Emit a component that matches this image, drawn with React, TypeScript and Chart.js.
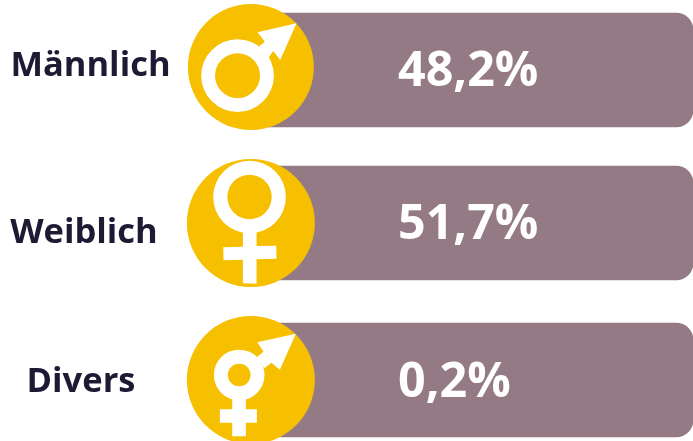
import React, { useEffect, useRef } from "react";
import { Chart, registerables } from "chart.js";

Chart.register(...registerables);

const categories = ["Männlich", "Weiblich", "Divers"];
const shares = [48.2, 51.7, 0.2];
const barStart = 36.2;
const barEnd = 100;
const tickMin = 0;
const tickMax = 100;

const W = 693;
const H = 441;
const BAR = "#947a85";
const GOLD = "#f6bf00";
const INK = "#1e1a34";
const rowShift = { bar: [0, -2, 0], dot: [-3, -2, 0] };
const dotSizes = [63, 64, 64];
const labelPos = [
  { cx: 90.5, dy: -4 },
  { cx: 84, dy: 10 },
  { cx: 81, dy: 2 },
];
const valueDy = [2, 2, 3];

type Pt = [number, number];
type Glyph = { rings: [number, number, number, number]; polys: Pt[][] };
// Shapes in units of 1/3 px relative to an origin near the disc centre
const glyphs: Glyph[] = [
  {
    rings: [203, 227, 109, 67.5],
    polys: [[[380, 70], [263, 97], [285, 125], [268, 138], [295, 175], [310, 153], [331, 180]]],
  },
  {
    rings: [239, 141, 109, 66.5],
    polys: [
      [[219, 240], [260, 240], [260, 288], [319, 287], [320, 326], [260, 328], [260, 401], [219, 400], [219, 329], [161, 331], [160, 292], [219, 290]],
    ],
  },
  {
    rings: [208, 225, 76, 34],
    polys: [
      [[378, 101], [262, 127], [281, 155], [262, 170], [283, 205], [305, 188], [330, 209]],
      [[187, 290], [228, 290], [228, 328], [261, 328], [261, 368], [228, 368], [228, 409], [187, 409], [187, 368], [150, 368], [150, 328], [187, 328]],
    ],
  },
];
const glyphOrigin: Pt[] = [[243, 201], [243, 219], [243, 240]];

const overlay = {
  id: "overlay",
  afterDatasetsUpdate(chart: any) {
    chart.getDatasetMeta(0).data.forEach((el: any, i: number) => (el.y += rowShift.bar[i]));
    chart.getDatasetMeta(1).data.forEach((el: any, i: number) => (el.y += rowShift.dot[i]));
  },
  afterDatasetsDraw(chart: any) {
    const { ctx } = chart;
    const bars = chart.getDatasetMeta(0).data;
    const dots = chart.getDatasetMeta(1).data;
    ctx.save();
    categories.forEach((name, i) => {
      const d = dots[i];
      const [ox, oy] = glyphOrigin[i];
      const g = glyphs[i];
      const px = (x: number) => d.x + (x - ox) / 3;
      const py = (y: number) => d.y + (y - oy) / 3;
      ctx.fillStyle = "#ffffff";
      g.polys.forEach((poly) => {
        ctx.beginPath();
        poly.forEach(([x, y], k) => (k ? ctx.lineTo(px(x), py(y)) : ctx.moveTo(px(x), py(y))));
        ctx.closePath();
        ctx.fill();
      });
      const [rx, ry, ro, ri] = g.rings;
      ctx.beginPath();
      ctx.arc(px(rx), py(ry), ro / 3, 0, Math.PI * 2);
      ctx.arc(px(rx), py(ry), ri / 3, 0, Math.PI * 2, true);
      ctx.fill("evenodd");

      ctx.textBaseline = "middle";
      ctx.fillStyle = "#ffffff";
      ctx.textAlign = "left";
      ctx.font = 'bold 48.4px "Open Sans"';
      ctx.fillText(shares[i].toFixed(1).replace(".", ",") + "%", 398, bars[i].y + valueDy[i]);

      ctx.fillStyle = INK;
      ctx.textAlign = "center";
      ctx.font = 'bold 34.5px "Open Sans"';
      ctx.fillText(name, labelPos[i].cx, bars[i].y + labelPos[i].dy);
    });
    ctx.restore();
  },
};

export default function App() {
  const ref = useRef<HTMLCanvasElement>(null);
  useEffect(() => {
    document.body.style.margin = "0";
    const chart = new Chart(ref.current!, {
      type: "bar",
      data: {
        labels: categories,
        datasets: [
          {
            type: "bar",
            label: "Anteil",
            data: categories.map(() => [barStart, barEnd]),
            backgroundColor: BAR,
            barThickness: 114,
            borderRadius: 17,
            borderSkipped: false,
            order: 2,
            clip: false,
          } as any,
          {
            type: "scatter",
            label: "Symbol",
            data: categories.map((c) => ({ x: barStart, y: c })),
            backgroundColor: GOLD,
            borderWidth: 0,
            pointRadius: dotSizes,
            pointHoverRadius: dotSizes,
            order: 1,
            clip: false,
          } as any,
        ],
      },
      options: {
        indexAxis: "y",
        animation: false,
        responsive: false,
        layout: { autoPadding: false, padding: { top: 70, bottom: 61, left: 0, right: 0 } },
        scales: {
          x: { type: "linear", display: false, min: tickMin, max: tickMax, offset: false },
          y: { type: "category", display: false, offset: false },
        },
        plugins: { legend: { display: false }, tooltip: { enabled: false } },
      },
      plugins: [overlay],
    } as any);
    return () => chart.destroy();
  }, []);
  return (
    <div style={{ width: W, height: H, overflow: "hidden", background: "#fff" }}>
      <canvas ref={ref} width={W} height={H} style={{ display: "block" }} />
    </div>
  );
}
